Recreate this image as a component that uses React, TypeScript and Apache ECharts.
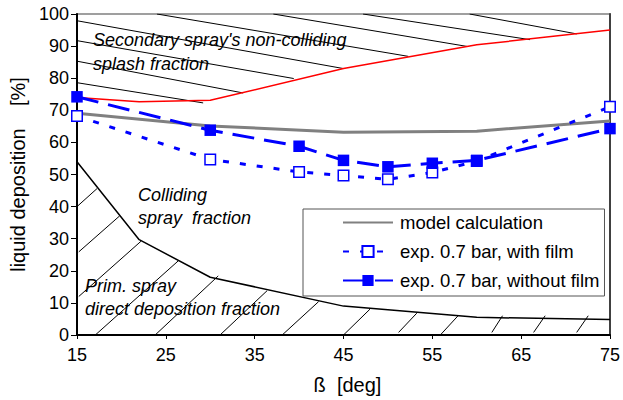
import React, { useEffect, useRef } from "react";
import * as echarts from "echarts";

// Measured data (angle in deg, liquid deposition in %)
const expAngles = [15, 30, 40, 45, 50, 55, 60, 75];
const withFilm = [68.2, 54.7, 50.8, 49.7, 48.5, 50.6, 54.2, 71.1];
const withoutFilm = [74.2, 63.8, 58.8, 54.4, 52.4, 53.5, 54.4, 64.3];

const modelAngles = [15, 30, 45, 60, 75];
const modelValues = [69.1, 65.1, 63.2, 63.5, 66.7];

// Upper boundary: secondary spray's non-colliding splash fraction
const splashAngles = [15, 22, 30, 45, 60, 75];
const splashValues = [74.0, 72.7, 73.1, 83.0, 90.4, 95.0];

// Lower boundary: primary spray direct deposition fraction
const directAngles = [15, 22, 30, 45, 60, 75];
const directValues = [54.0, 29.7, 18.0, 9.0, 5.5, 4.8];

// Hatching segments [x1, y1, x2, y2] in data units
const splashHatch = [
  [15, 78.6, 29.2, 72.3],
  [15, 85.3, 33.7, 75.4],
  [15, 91.7, 39.4, 79.9],
  [15, 97.9, 45.0, 83.0],
  [24.0, 100, 52.3, 86.8],
  [37.1, 100, 58.9, 89.9],
  [47.2, 100, 66.0, 92.0],
  [59.2, 100, 71.25, 93.8],
];
const directHatch = [
  [15, 40.0, 17.25, 45.6],
  [15.2, 25.9, 19.8, 37.1],
  [15.2, 12.0, 22.2, 29.2],
  [17.06, 0, 26.4, 23.1],
  [23.8, 0, 30.9, 18.4],
  [31.1, 0, 36.4, 13.8],
  [38.1, 0, 42.2, 10.4],
  [45.0, 0, 48.0, 8.1],
  [51.2, 0.8, 53.25, 6.8],
  [55.9, 0, 57.9, 6.0],
  [61.7, 0.8, 62.9, 6.0],
  [66.4, 0.8, 67.7, 6.0],
  [71.25, 0.8, 72.55, 6.0],
];

const seriesNames = [
  "model calculation",
  "exp. 0.7 bar, with film",
  "exp. 0.7 bar, without film",
];

const FONT = "'Liberation Sans', Arial, sans-serif";

export default function App() {
  const ref = useRef<HTMLDivElement>(null);
  useEffect(() => {
    const chart = echarts.init(ref.current!, null, { renderer: "svg" });
    const pair = (xs: number[], ys: number[]) => xs.map((x, i) => [x, ys[i]]);
    const seg = (s: number[][]) =>
      s.map(([a, b, c, d]) => ({ coords: [[a, b], [c, d]] }));
    const label = (text: string, x: number, y: number) => ({
      type: "text",
      x,
      y,
      z: 20,
      style: {
        text,
        fontSize: 18,
        fontStyle: "italic",
        fontFamily: FONT,
        fill: "#000",
        verticalAlign: "middle",
      },
    });
    chart.setOption({
      animation: false,
      textStyle: { fontFamily: FONT },
      grid: {
        left: 77,
        top: 14,
        width: 533,
        height: 322,
        show: true,
        borderColor: "#808080",
        borderWidth: 1.5,
      },
      xAxis: [
        {
          type: "value",
          min: 15,
          max: 75,
          interval: 10,
          name: "ß  [deg]",
          nameLocation: "middle",
          nameGap: 40,
          nameTextStyle: { fontSize: 20, color: "#000", fontFamily: FONT, padding: [0, 0, 0, 8] },
          axisLine: { show: true, onZero: false, lineStyle: { color: "#000", width: 2 } },
          axisTick: { show: true, inside: false, length: 4, lineStyle: { color: "#000", width: 1 } },
          axisLabel: { fontSize: 18, color: "#000", margin: 11, fontFamily: FONT },
          splitLine: { show: false },
        },
      ],
      yAxis: [
        {
          type: "value",
          min: 0,
          max: 100,
          interval: 10,
          name: "liquid deposition    [%]",
          nameLocation: "middle",
          nameGap: 43,
          nameTextStyle: { fontSize: 20, color: "#000", fontFamily: FONT },
          axisLine: { show: true, onZero: false, lineStyle: { color: "#000", width: 2 } },
          axisTick: { show: true, inside: false, length: 6, lineStyle: { color: "#000", width: 1 } },
          axisLabel: { fontSize: 18, color: "#000", margin: 8, fontFamily: FONT },
          splitLine: { show: false },
        },
        {
          type: "value",
          position: "right",
          min: 0,
          max: 100,
          axisLine: { show: true, onZero: false, lineStyle: { color: "#404040", width: 2 } },
          axisTick: { show: false },
          axisLabel: { show: false },
          splitLine: { show: false },
        },
      ],
      legend: {
        data: [
          { name: seriesNames[0], itemStyle: { opacity: 0 } },
          { name: seriesNames[1] },
          { name: seriesNames[2] },
        ],
        orient: "vertical",
        left: 303,
        top: 209,
        itemWidth: 50,
        itemHeight: 14,
        itemGap: 10,
        padding: [4, 5, 6, 39],
        backgroundColor: "#fff",
        borderColor: "#555",
        borderWidth: 1,
        borderRadius: 0,
        textStyle: { fontSize: 18.5, color: "#000", fontFamily: FONT, padding: [0, 0, 0, 2] },
      },
      series: [
        {
          type: "lines",
          coordinateSystem: "cartesian2d",
          silent: true,
          z: 1,
          data: seg(splashHatch),
          lineStyle: { color: "#000", width: 1, opacity: 1 },
        },
        {
          type: "lines",
          coordinateSystem: "cartesian2d",
          silent: true,
          z: 1,
          data: seg(directHatch),
          lineStyle: { color: "#000", width: 1, opacity: 1 },
        },
        {
          type: "line",
          name: "splash boundary",
          data: pair(splashAngles, splashValues),
          symbol: "none",
          silent: true,
          z: 2,
          lineStyle: { color: "#ff0000", width: 1.5 },
        },
        {
          type: "line",
          name: "direct boundary",
          data: pair(directAngles, directValues),
          symbol: "none",
          silent: true,
          z: 2,
          lineStyle: { color: "#000", width: 1.5 },
        },
        {
          type: "line",
          name: seriesNames[0],
          data: pair(modelAngles, modelValues),
          symbol: "none",
          z: 3,
          color: "#808080",
          lineStyle: { color: "#808080", width: 3 },
        },
        {
          type: "line",
          name: seriesNames[1],
          data: pair(expAngles, withFilm),
          symbol: "rect",
          symbolSize: 10.5,
          z: 4,
          color: "#0000ff",
          itemStyle: { color: "#fff", borderColor: "#0000ff", borderWidth: 1.5 },
          lineStyle: { color: "#0000ff", width: 3, type: [6, 11] },
        },
        {
          type: "line",
          name: seriesNames[2],
          data: pair(expAngles, withoutFilm),
          symbol: "rect",
          symbolSize: 11.5,
          z: 5,
          color: "#0000ff",
          itemStyle: { color: "#0000ff" },
          lineStyle: { color: "#0000ff", width: 3, type: [22, 10] },
        },
      ],
      graphic: [
        label("Secondary spray's non-colliding", 93, 40),
        label("splash fraction", 93, 64),
        label("Colliding", 138, 195),
        label("spray  fraction", 138, 218),
        label("Prim. spray", 85, 286),
        label("direct deposition fraction", 85, 309),
      ],
    });
    return () => chart.dispose();
  }, []);
  return (
    <div
      ref={ref}
      style={{ position: "absolute", left: 0, top: 0, width: 623, height: 400, background: "#fff" }}
    />
  );
}
